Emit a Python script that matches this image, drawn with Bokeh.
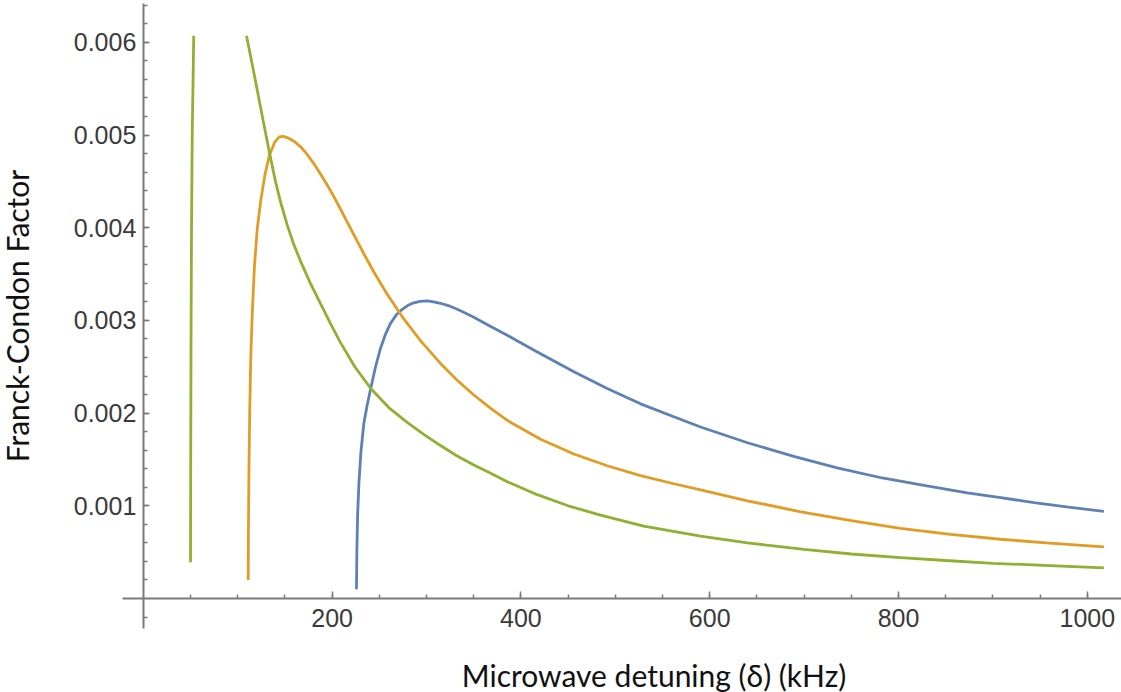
from bokeh.plotting import figure
from bokeh.models import FixedTicker, PrintfTickFormatter, Range1d, Label
from bokeh.embed import file_html
from bokeh.resources import INLINE

# ---- data ----
blue_x = [225.8, 226.2, 227.0, 228.4, 230.5, 233.6, 237.2, 241.4, 246.0, 251.3, 256.5,
          261.9, 268.0, 274.3, 280.0, 286.5, 293.0, 300.7, 307.5, 314.8, 323.0, 332.5,
          341.0, 350.1, 367.0, 385.5, 403.0, 420.8, 456.1, 491.4, 526.7, 562.0, 590.3,
          640.0, 690.0, 735.0, 782.7, 830.0, 872.8, 910.0, 943.4, 980.0, 1017.5]
blue_y = [0.00010, 0.00050, 0.00090, 0.00125, 0.00158, 0.00189, 0.00209, 0.00229,
          0.00250, 0.00270, 0.00285, 0.00297, 0.00306, 0.00312, 0.00316, 0.00319,
          0.003205, 0.00321, 0.00320, 0.003185, 0.00316, 0.00312, 0.00308, 0.003035,
          0.00294, 0.00284, 0.00274, 0.00264, 0.002445, 0.002265, 0.00210, 0.00196,
          0.00185, 0.00168, 0.00153, 0.00141, 0.00130, 0.001215, 0.00114, 0.001085,
          0.001035, 0.000985, 0.00094]

orange_x = [111.1, 111.4, 111.9, 112.7, 113.8, 115.5, 117.8, 120.8, 124.5, 128.8, 133.5,
            139.0, 144.0, 148.2, 153.0, 160.0, 167.0, 173.6, 180.0, 187.0, 194.8, 201.0,
            208.9, 216.0, 224.8, 234.0, 244.2, 258.0, 274.3, 294.0, 314.8, 332.5, 350.1,
            368.0, 385.5, 420.8, 456.0, 491.4, 526.7, 562.0, 590.3, 640.0, 696.6, 750.0,
            802.0, 855.0, 908.0, 960.0, 1017.5]
orange_y = [0.00020, 0.00080, 0.00140, 0.00200, 0.00260, 0.00310, 0.00360, 0.00400,
            0.00430, 0.00457, 0.00478, 0.00492, 0.00498, 0.004985, 0.00497, 0.00493,
            0.00487, 0.00479, 0.00470, 0.00459, 0.00446, 0.00435, 0.00420, 0.00406,
            0.00389, 0.003711, 0.003522, 0.003287, 0.003039, 0.002777, 0.002536,
            0.002355, 0.002195, 0.00205, 0.001922, 0.001717, 0.001559, 0.001432,
            0.001326, 0.001238, 0.001173, 0.001054, 0.000935, 0.000839, 0.000756,
            0.000692, 0.000639, 0.000597, 0.000557]

green_left_x = [50.0, 50.2, 50.5, 51.0, 51.8, 53.4]
green_left_y = [0.00039, 0.0015, 0.0027, 0.0039, 0.0050, 0.00607]

green_right_x = [109.3, 115.0, 120.0, 127.0, 134.0, 140.0, 145.3, 152.4, 159.0, 166.5,
                 177.0, 187.7, 198.0, 208.9, 224.0, 241.4, 260.0, 279.5, 297.0, 314.8,
                 332.0, 350.1, 368.0, 385.5, 417.3, 450.0, 484.3, 530.0, 590.3, 640.0,
                 700.0, 750.0, 802.0, 850.0, 900.0, 960.0, 1017.5]
green_right_y = [0.00607, 0.00578, 0.00552, 0.00515, 0.00479, 0.00450, 0.00428, 0.00403,
                 0.00383, 0.00364, 0.00340, 0.00318, 0.00297, 0.00276, 0.00250, 0.00226,
                 0.00206, 0.00190, 0.00177, 0.00165, 0.00154, 0.00144, 0.00135, 0.00126,
                 0.00112, 0.00100, 0.00090, 0.00078, 0.000672, 0.00060, 0.00053, 0.00048,
                 0.00044, 0.00041, 0.00038, 0.000355, 0.00033]

x_major_ticks = [200, 400, 600, 800, 1000]
y_major_ticks = [0.001, 0.002, 0.003, 0.004, 0.005, 0.006]
x_label = "Microwave detuning (δ) (kHz)"
y_label = "Franck-Condon Factor"

BLUE = "#5E81B5"
ORANGE = "#E19C24"
GREEN = "#8FB032"
AXIS = "#7a7a7a"

# frame covers the whole canvas; axes cross at the origin (Mathematica style)
p = figure(width=1121, height=692, output_backend="svg", toolbar_location=None,
           x_range=Range1d(-151.3, 1036.2), y_range=Range1d(-0.001014, 0.006451),
           min_border=0)
p.outline_line_color = None
p.grid.visible = False
p.background_fill_color = "white"
p.border_fill_color = "white"

lw = 2.8
p.line(blue_x, blue_y, line_color=BLUE, line_width=lw)
p.line(orange_x, orange_y, line_color=ORANGE, line_width=lw)
p.line(green_left_x, green_left_y, line_color=GREEN, line_width=lw)
p.line(green_right_x, green_right_y, line_color=GREEN, line_width=lw)

x_minor = [50 * i for i in range(1, 21)]
y_minor = [round(0.0002 * i, 4) for i in range(-1, 33) if i != 0]

xa = p.xaxis[0]
xa.fixed_location = 0
xa.bounds = (-22, 1103)
xa.ticker = FixedTicker(ticks=x_major_ticks, minor_ticks=x_minor)
xa.formatter = PrintfTickFormatter(format="%d")
ya = p.yaxis[0]
ya.fixed_location = 0
ya.bounds = (-0.000324, 0.00642)
ya.ticker = FixedTicker(ticks=y_major_ticks, minor_ticks=y_minor)
ya.formatter = PrintfTickFormatter(format="%.3f")

for ax in (xa, ya):
    ax.axis_line_color = AXIS
    ax.axis_line_width = 2
    ax.major_tick_line_color = AXIS
    ax.minor_tick_line_color = AXIS
    ax.major_tick_line_width = 1.5
    ax.minor_tick_line_width = 1.5
    ax.major_tick_out = 0
    ax.minor_tick_out = 0
    ax.minor_tick_in = 4
    ax.major_label_text_font = "Liberation Sans"
    ax.major_label_text_font_size = "25px"
    ax.major_label_text_color = "#3a3a3a"
    ax.axis_label_text_font = "Lato"
    ax.axis_label_text_font_size = "30px"
    ax.axis_label_text_font_style = "normal"
    ax.axis_label_text_color = "#111111"

xa.major_tick_in = 7
ya.major_tick_in = 6
xa.major_label_standoff = 10
ya.major_label_standoff = 7
ya.axis_label = y_label
ya.axis_label_standoff = 36

# x-axis title (placed below the axis, centred under the plotted data span)
p.add_layout(Label(x=540.5, y=-0.00082, text=x_label, text_align="center",
                   text_baseline="middle", text_font="Lato", text_font_size="30px",
                   text_color="#111111"))

open("out.html", "w").write(file_html(p, INLINE))
